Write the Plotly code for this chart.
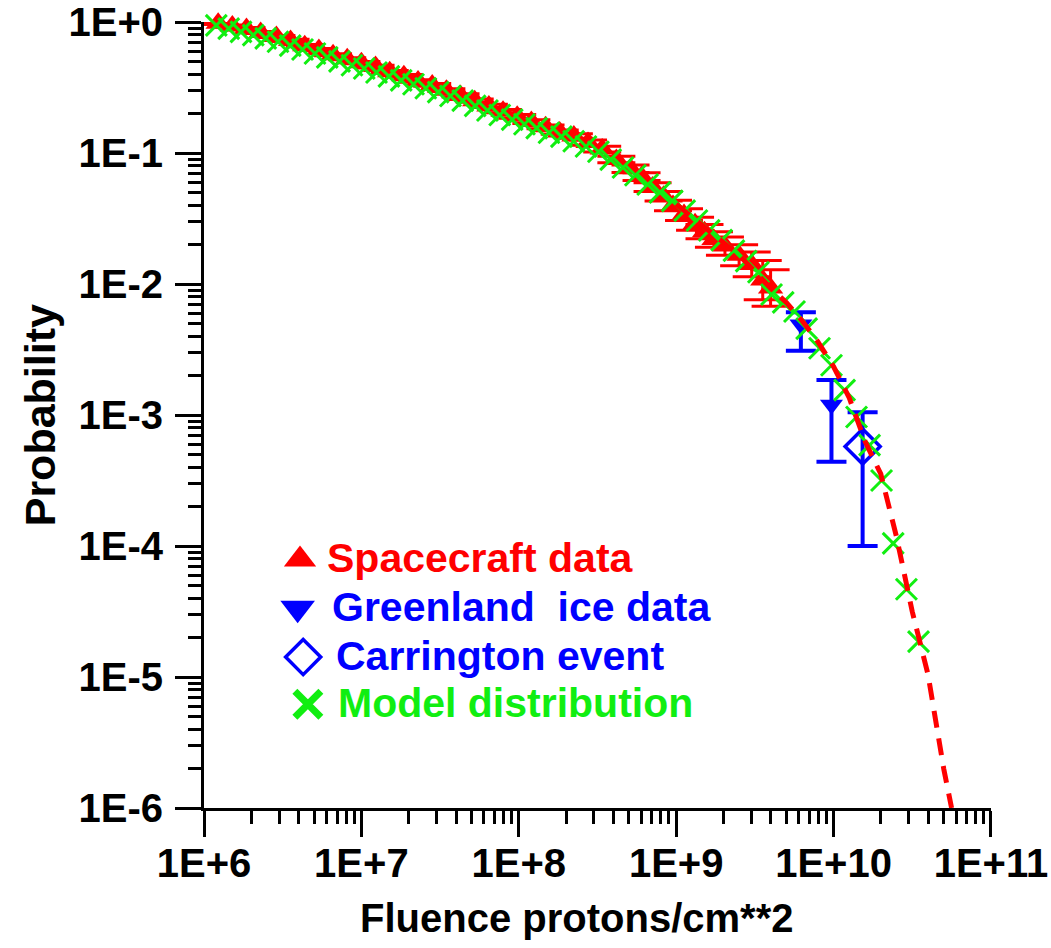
import plotly.graph_objects as go

# ---------------- data ----------------
# Model distribution: log10(fluence) and log10(probability)
model_logF = [6.000, 6.078, 6.157, 6.235, 6.313, 6.392, 6.470, 6.548, 6.626, 6.705,
              6.783, 6.861, 6.940, 7.018, 7.096, 7.175, 7.253, 7.331, 7.409, 7.488,
              7.566, 7.644, 7.723, 7.801, 7.879, 7.958, 8.036, 8.114, 8.192, 8.271,
              8.349, 8.427, 8.506, 8.584, 8.662, 8.741, 8.819, 8.897, 8.975, 9.054,
              9.132, 9.210, 9.289, 9.367, 9.445, 9.523, 9.606, 9.680, 9.752, 9.829,
              9.911, 9.987, 10.070, 10.146, 10.229, 10.305, 10.379, 10.463, 10.540]
model_logP = [0.000, -0.025, -0.050, -0.075, -0.100, -0.125, -0.150, -0.180, -0.210, -0.240,
              -0.270, -0.300, -0.330, -0.355, -0.385, -0.415, -0.445, -0.475, -0.505, -0.535,
              -0.565, -0.600, -0.640, -0.675, -0.710, -0.745, -0.780, -0.810, -0.845, -0.875,
              -0.910, -0.950, -0.990, -1.050, -1.110, -1.170, -1.240, -1.300, -1.365, -1.440,
              -1.515, -1.590, -1.665, -1.745, -1.825, -1.910, -2.080, -2.140, -2.210, -2.340,
              -2.490, -2.620, -2.810, -3.015, -3.230, -3.500, -3.980, -4.330, -4.730]

# Spacecraft data: log10(fluence), log10(probability), log10 error half-width
sc_logF = [6.00, 6.09, 6.18, 6.27, 6.36, 6.46, 6.55, 6.64, 6.73, 6.82,
           6.91, 7.00, 7.09, 7.18, 7.27, 7.36, 7.45, 7.54, 7.63, 7.72,
           7.81, 7.90, 7.99, 8.08, 8.17, 8.26, 8.35, 8.44, 8.53, 8.62,
           8.71, 8.78, 8.85, 8.92, 8.98, 9.05, 9.12, 9.18, 9.24, 9.31,
           9.40, 9.48, 9.55, 9.60]
sc_logP = [0.00, -0.01, -0.03, -0.05, -0.08, -0.11, -0.14, -0.18, -0.21, -0.25,
           -0.28, -0.31, -0.34, -0.38, -0.41, -0.45, -0.48, -0.52, -0.56, -0.60,
           -0.64, -0.68, -0.72, -0.76, -0.80, -0.84, -0.87, -0.92, -0.97, -1.05,
           -1.12, -1.18, -1.26, -1.33, -1.40, -1.47, -1.54, -1.60, -1.66, -1.71,
           -1.78, -1.85, -1.97, -2.03]
sc_errlog = [0.008, 0.008, 0.008, 0.008, 0.008, 0.008, 0.008, 0.008, 0.008, 0.008,
             0.008, 0.008, 0.010, 0.010, 0.010, 0.010, 0.010, 0.010, 0.012, 0.012,
             0.012, 0.012, 0.014, 0.014, 0.015, 0.016, 0.018, 0.020, 0.022, 0.025,
             0.028, 0.030, 0.033, 0.036, 0.040, 0.045, 0.050, 0.055, 0.060, 0.070,
             0.080, 0.095, 0.150, 0.140]

# Greenland ice data
gl_F = [6.2e9, 9.7e9]
gl_P = [4.9e-3, 1.2e-3]
gl_hi = [6.1e-3, 1.85e-3]
gl_lo = [3.1e-3, 4.4e-4]

# Carrington event
ca_F = [1.53e10]
ca_P = [5.75e-4]
ca_hi = [1.05e-3]
ca_lo = [1.0e-4]

# Fitted curve (red dashed)
fit_logF = [9.0, 9.2, 9.4, 9.6, 9.7, 9.8, 9.9, 10.0, 10.1, 10.2, 10.3, 10.4, 10.5, 10.6, 10.7, 10.75]
fit_logP = [-1.39, -1.58, -1.78, -2.03, -2.14, -2.28, -2.44, -2.63, -2.87, -3.20, -3.45, -3.93,
            -4.50, -4.98, -5.70, -6.00]

x_tickvals = [1e6, 1e7, 1e8, 1e9, 1e10, 1e11]
x_ticktext = ["1E+6", "1E+7", "1E+8", "1E+9", "1E+10", "1E+11"]
y_tickvals = [1e0, 1e-1, 1e-2, 1e-3, 1e-4, 1e-5, 1e-6]
y_ticktext = ["1E+0", "1E-1", "1E-2", "1E-3", "1E-4", "1E-5", "1E-6"]

legend_labels = ["Spacecraft data", "Greenland\u00a0 ice data", "Carrington event", "Model distribution"]
x_title = "Fluence protons/cm**2"
y_title = "Probability"

# ---------------- styling ----------------
RED = "#FF0000"
BLUE = "#0000FF"
GREEN = "#11EE11"
SANS = "Liberation Sans, Arial, sans-serif"

sc_F = [10 ** v for v in sc_logF]
sc_P = [10 ** v for v in sc_logP]
sc_up = [p * (10 ** e - 1) for p, e in zip(sc_P, sc_errlog)]
sc_dn = [p * (1 - 10 ** (-e)) for p, e in zip(sc_P, sc_errlog)]

fig = go.Figure()

fig.add_trace(go.Scatter(
    x=sc_F, y=sc_P, mode="markers", cliponaxis=False, showlegend=False,
    name=legend_labels[0],
    marker=dict(symbol="triangle-up", size=22, color=RED),
    error_y=dict(type="data", symmetric=False, array=sc_up, arrayminus=sc_dn,
                 color=RED, thickness=3, width=19),
))
fig.add_trace(go.Scatter(
    x=gl_F, y=gl_P, mode="markers", cliponaxis=False, showlegend=False,
    name=legend_labels[1],
    marker=dict(symbol="triangle-down", size=20, color=BLUE),
    error_y=dict(type="data", symmetric=False,
                 array=[h - p for h, p in zip(gl_hi, gl_P)],
                 arrayminus=[p - l for l, p in zip(gl_lo, gl_P)],
                 color=BLUE, thickness=4, width=15),
))
fig.add_trace(go.Scatter(
    x=ca_F, y=ca_P, mode="markers", cliponaxis=False, showlegend=False,
    name=legend_labels[2],
    marker=dict(symbol="diamond-open", size=27, color=BLUE, line=dict(width=3.5, color=BLUE)),
    error_y=dict(type="data", symmetric=False,
                 array=[h - p for h, p in zip(ca_hi, ca_P)],
                 arrayminus=[p - l for l, p in zip(ca_lo, ca_P)],
                 color=BLUE, thickness=4, width=15),
))
fig.add_trace(go.Scatter(
    x=[10 ** v for v in model_logF], y=[10 ** v for v in model_logP],
    mode="markers", cliponaxis=False, showlegend=False,
    name=legend_labels[3],
    marker=dict(symbol="x-thin", size=21, color=GREEN, line=dict(width=3, color=GREEN)),
))
fig.add_trace(go.Scatter(
    x=[10 ** v for v in fit_logF], y=[10 ** v for v in fit_logP],
    mode="lines", showlegend=False, cliponaxis=False, name="Fit",
    line=dict(color=RED, width=5, dash="17px,11px"),
))

# ---------------- custom legend (overlay axes spanning the plot area, 0..1) ----------------
leg_marker_x = [0.122, 0.119, 0.126, 0.132]
leg_marker_y = [0.316, 0.254, 0.192, 0.132]
leg_text_x = [0.154, 0.160, 0.165, 0.168]
leg_text_y = [0.318, 0.256, 0.194, 0.134]
leg_symbols = ["triangle-up", "triangle-down", "diamond-open", "x-thin"]
leg_sizes = [28, 30, 27, 26]
leg_colors = [RED, BLUE, BLUE, GREEN]
leg_linew = [0, 0, 3.5, 7]

for i in range(4):
    fig.add_trace(go.Scatter(
        x=[leg_marker_x[i]], y=[leg_marker_y[i]], xaxis="x2", yaxis="y2",
        mode="markers", cliponaxis=False, showlegend=False, hoverinfo="skip",
        name=legend_labels[i],
        marker=dict(symbol=leg_symbols[i], size=leg_sizes[i], color=leg_colors[i],
                    line=dict(width=leg_linew[i], color=leg_colors[i])),
    ))
    fig.add_annotation(
        x=leg_text_x[i], y=leg_text_y[i], xref="x2", yref="y2",
        xanchor="left", yanchor="middle", showarrow=False,
        text=legend_labels[i],
        font=dict(family=SANS, size=41, color=leg_colors[i], weight="bold"),
    )

# axis titles (as text annotations so their position matches the reference)
fig.add_annotation(
    x=0.473, y=-0.14, xref="paper", yref="paper", xanchor="center", yanchor="middle",
    showarrow=False, text=x_title,
    font=dict(family=SANS, size=40, color="black", weight="bold"),
)
fig.add_annotation(
    x=-0.208, y=0.5, xref="paper", yref="paper", xanchor="center", yanchor="middle",
    showarrow=False, text=y_title, textangle=-90,
    font=dict(family=SANS, size=43, color="black", weight="bold"),
)

axis_common = dict(
    type="log", showline=True, linecolor="black", linewidth=3,
    ticks="outside", ticklen=26, tickwidth=3, tickcolor="black",
    showgrid=False, zeroline=False, mirror=False,
    ticklabeloverflow="allow", automargin=False,
    tickfont=dict(family=SANS, size=40, color="black", weight="bold"),
    minor=dict(ticks="outside", ticklen=13, tickwidth=3, tickcolor="black",
               showgrid=False, dtick="D1"),
)

fig.update_layout(
    width=1051, height=948,
    margin=dict(l=204, r=60, t=22, b=140),
    paper_bgcolor="white", plot_bgcolor="white",
    showlegend=False,
    xaxis=dict(
        range=[6, 11.0004], tickvals=x_tickvals, ticktext=x_ticktext,
        ticklabelstandoff=-8,
        **axis_common,
    ),
    yaxis=dict(
        range=[-6, 0.0004], tickvals=y_tickvals, ticktext=y_ticktext,
        ticklabelstandoff=4,
        **axis_common,
    ),
    xaxis2=dict(overlaying="x", range=[0, 1], visible=False, anchor="y2", fixedrange=True),
    yaxis2=dict(overlaying="y", range=[0, 1], visible=False, anchor="x2", fixedrange=True),
)

fig.write_html("out.html")
